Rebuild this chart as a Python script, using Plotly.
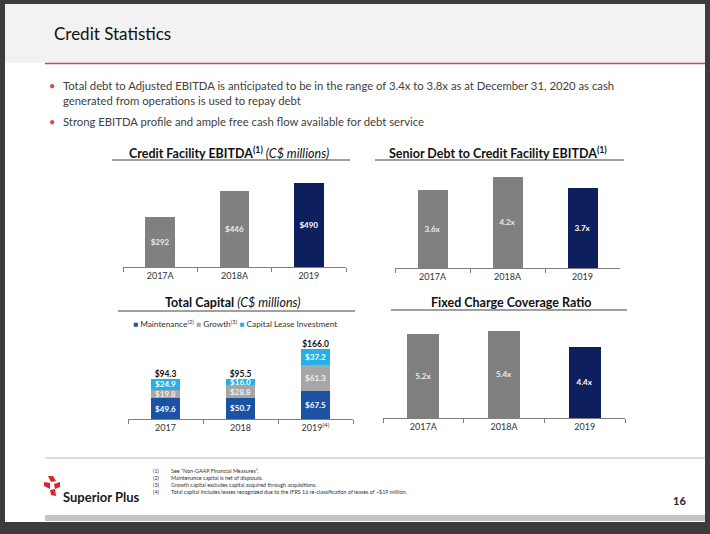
import plotly.graph_objects as go

# ---------------- data ----------------
ebitda_years = ["2017A", "2018A", "2019"]
ebitda_values = [292, 446, 490]

senior_years = ["2017A", "2018A", "2019"]
senior_values = [3.6, 4.2, 3.7]

capital_years = ["2017", "2018", "2019<sup>(4)</sup>"]
maintenance = [49.6, 50.7, 67.5]
growth = [19.8, 28.8, 61.3]
lease = [24.9, 16.0, 37.2]

fccr_years = ["2017A", "2018A", "2019"]
fccr_values = [5.2, 5.4, 4.4]

bullets = [
    "Total debt to Adjusted EBITDA is anticipated to be in the range of 3.4x to 3.8x as at December 31, 2020 as cash<br>generated from operations is used to repay debt",
    "Strong EBITDA profile and ample free cash flow available for debt service",
]
footnote_nums = ["(1)", "(2)", "(3)", "(4)"]
footnote_texts = [
    "See \u201cNon-GAAP Financial Measures\u201d.",
    "Maintenance capital is net of disposals.",
    "Growth capital excludes capital acquired through acquisitions.",
    "Total capital includes leases recognized due to the IFRS 16 re-classification of leases of ~$19 million.",
]

# ---------------- styling ----------------
W, H = 710, 534
GRAY = "#808080"
NAVY = "#0d1f5c"
BLUE = "#1b52a3"
LGRAY = "#a6a6a6"
CYAN = "#25b0e8"
FONT = "Lato"


def px(x):
    return x / W


def py(y):
    return 1 - y / H


def bar_colors(n):
    return [GRAY] * (n - 1) + [NAVY]


def text_colors(n):
    return ["#ececec"] * (n - 1) + ["#ffffff"]


fig = go.Figure()

# chart 1
fig.add_trace(go.Bar(
    x=ebitda_years, y=ebitda_values, width=0.40,
    marker=dict(color=bar_colors(3), line=dict(width=0)),
    texttemplate="$%{y:.0f}", textposition="inside", insidetextanchor="middle",
    textfont=dict(family=FONT, size=8, color=text_colors(3), weight="bold"),
    xaxis="x", yaxis="y", showlegend=False, hoverinfo="skip"))

# chart 2
fig.add_trace(go.Bar(
    x=senior_years, y=senior_values, width=0.40,
    marker=dict(color=bar_colors(3), line=dict(width=0)),
    texttemplate="%{y:.1f}x", textposition="inside", insidetextanchor="middle",
    textfont=dict(family=FONT, size=8, color=text_colors(3), weight="bold"),
    xaxis="x2", yaxis="y2", showlegend=False, hoverinfo="skip"))

# chart 3 (stacked)
for vals, col, tcol in [(maintenance, BLUE, "#ffffff"), (growth, LGRAY, "#f0f0f0"), (lease, CYAN, "#ffffff")]:
    fig.add_trace(go.Bar(
        x=capital_years, y=vals, width=0.39,
        marker=dict(color=col, line=dict(width=0)),
        texttemplate="$%{y:.1f}", textposition="inside", insidetextanchor="middle",
        textfont=dict(family=FONT, size=8, color=tcol, weight="bold"),
        xaxis="x3", yaxis="y3", showlegend=False, hoverinfo="skip"))

totals = [m + g + l for m, g, l in zip(maintenance, growth, lease)]
fig.add_trace(go.Scatter(
    x=capital_years, y=totals, mode="text",
    text=[f"${t:.1f}" for t in totals], textposition="top center",
    textfont=dict(family=FONT, size=8.5, color="#111111", weight="bold"),
    xaxis="x3", yaxis="y3", showlegend=False, hoverinfo="skip"))

# chart 4
fig.add_trace(go.Bar(
    x=fccr_years, y=fccr_values, width=0.40,
    marker=dict(color=bar_colors(3), line=dict(width=0)),
    texttemplate="%{y:.1f}x", textposition="inside", insidetextanchor="middle",
    textfont=dict(family=FONT, size=8, color=text_colors(3), weight="bold"),
    xaxis="x4", yaxis="y4", showlegend=False, hoverinfo="skip"))


def xax(x0, x1, anchor):
    return dict(type="category", range=[-0.5, 2.5], domain=[px(x0), px(x1)],
                showline=True, linecolor="#7f7f7f", linewidth=1,
                ticks="outside", tickson="boundaries", ticklen=4, tickcolor="#7f7f7f",
                showgrid=False, zeroline=False, fixedrange=True,
                tickfont=dict(family=FONT, size=9, color="#333333"), anchor=anchor)


def yax(y_axis_px, y_top_px, rmax):
    return dict(range=[0, rmax], domain=[py(y_axis_px), py(y_top_px)], visible=False, fixedrange=True)


layout = dict(
    width=W, height=H, margin=dict(l=0, r=0, t=0, b=0),
    paper_bgcolor="#3c3c3c", plot_bgcolor="rgba(0,0,0,0)",
    barmode="stack", uniformtext=dict(mode="show", minsize=8),
    font=dict(family=FONT),
    xaxis=xax(123, 346, "y"), yaxis=yax(267, 170, 97 / 0.1712),
    xaxis2=xax(395, 620, "y2"), yaxis2=yax(268, 170, 98 / 21.7),
    xaxis3=xax(128, 353, "y3"), yaxis3=yax(419, 335, 84 / 0.422),
    xaxis4=xax(383, 625, "y4"), yaxis4=yax(418, 325, 93 / 16.2),
)
fig.update_layout(**layout)

shapes = []
# slide background
shapes.append(dict(type="rect", xref="paper", yref="paper", x0=px(5), x1=px(705), y0=py(522), y1=py(4),
                   fillcolor="#ffffff", line=dict(width=0), layer="below"))
shapes.append(dict(type="rect", xref="paper", yref="paper", x0=px(5), x1=px(705), y0=py(63), y1=py(4),
                   fillcolor="#f2f2f2", line=dict(width=0), layer="below"))
shapes.append(dict(type="line", xref="paper", yref="paper", x0=px(45), x1=px(705), y0=py(63.5), y1=py(63.5),
                   line=dict(color="#d04a4a", width=1.5), layer="below"))
shapes.append(dict(type="line", xref="paper", yref="paper", x0=px(45), x1=px(705), y0=py(458), y1=py(458),
                   line=dict(color="#dcdcdc", width=2), layer="below"))
shapes.append(dict(type="rect", xref="paper", yref="paper", x0=px(45), x1=px(705), y0=py(521), y1=py(515),
                   fillcolor="#c4c4c4", line=dict(width=0), layer="below"))
# chart title underlines
for x0, x1, y in [(112, 350, 160), (375, 624, 160), (118, 355, 311), (391, 627, 310)]:
    shapes.append(dict(type="line", xref="paper", yref="paper", x0=px(x0), x1=px(x1), y0=py(y), y1=py(y),
                       line=dict(color="#404040", width=1), layer="below"))


# logo pieces (pinwheel)
def poly(pts):
    d = "M " + " L ".join(f"{px(a):.5f},{py(b):.5f}" for a, b in pts) + " Z"
    return dict(type="path", xref="paper", yref="paper", path=d, fillcolor="#d7262d", line=dict(width=0))


shapes.append(poly([(48, 476), (53, 476), (56, 481), (51, 482)]))
shapes.append(poly([(44, 482), (50, 483), (50, 489), (44, 486)]))
shapes.append(poly([(54, 484), (60, 482), (60, 487), (55, 489)]))
shapes.append(poly([(50, 490), (55, 489), (56, 496), (51, 495)]))
fig.update_layout(shapes=shapes)

ann = []
ann.append(dict(text="Credit Statistics", x=px(52), y=py(33), xanchor="left", yanchor="middle",
                font=dict(family=FONT, size=17, color="#111111")))
ann.append(dict(text="\u2022", x=px(47), y=py(86), xanchor="left", yanchor="middle",
                font=dict(family=FONT, size=11, color="#d04a4a")))
ann.append(dict(text=bullets[0], x=px(61), y=py(93), xanchor="left", yanchor="middle", align="left",
                font=dict(family=FONT, size=11.3, color="#404040")))
ann.append(dict(text="\u2022", x=px(47), y=py(121), xanchor="left", yanchor="middle",
                font=dict(family=FONT, size=11, color="#d04a4a")))
ann.append(dict(text=bullets[1], x=px(61), y=py(121), xanchor="left", yanchor="middle", align="left",
                font=dict(family=FONT, size=11.3, color="#404040")))

title_font = dict(family=FONT, size=12.5, color="#111111", weight="bold")
ann.append(dict(text="Credit Facility EBITDA<sup>(1)</sup> <i><span style='font-weight:normal'>(C$ millions)</span></i>",
                x=px(229), y=py(152), xanchor="center", yanchor="middle", font=title_font))
ann.append(dict(text="Senior Debt to Credit Facility EBITDA<sup>(1)</sup>",
                x=px(498), y=py(152), xanchor="center", yanchor="middle", font=title_font))
ann.append(dict(text="Total Capital <i><span style='font-weight:normal'>(C$ millions)</span></i>",
                x=px(233), y=py(302), xanchor="center", yanchor="middle", font=title_font))
ann.append(dict(text="Fixed Charge Coverage Ratio",
                x=px(511), y=py(302), xanchor="center", yanchor="middle", font=title_font))

ann.append(dict(text=(f"<span style='color:{BLUE}'>\u25a0</span> Maintenance<sup>(2)</sup> "
                      f"<span style='color:{LGRAY}'>\u25a0</span> Growth<sup>(3)</sup> "
                      f"<span style='color:{CYAN}'>\u25a0</span> Capital Lease Investment"),
                x=px(131), y=py(323), xanchor="left", yanchor="middle",
                font=dict(family=FONT, size=8.3, color="#333333")))

# footnotes (two columns)
ann.append(dict(text="<br>".join(footnote_nums), x=px(151), y=py(466), xanchor="left", yanchor="top",
                align="left", font=dict(family=FONT, size=5.4, color="#333333")))
ann.append(dict(text="<br>".join(footnote_texts), x=px(169), y=py(466), xanchor="left", yanchor="top",
                align="left", font=dict(family=FONT, size=5.4, color="#333333")))

ann.append(dict(text="Superior Plus", x=px(61), y=py(497), xanchor="left", yanchor="middle",
                font=dict(family=FONT, size=13, color="#1a1a1a", weight="bold")))
ann.append(dict(text="<b>16</b>", x=px(679), y=py(500), xanchor="center", yanchor="middle",
                font=dict(family=FONT, size=11, color="#222222")))

for a in ann:
    a.update(xref="paper", yref="paper", showarrow=False)
fig.update_layout(annotations=ann)

fig.write_html("out.html", config={"displayModeBar": False},
               post_script="document.body.style.margin='0';")
